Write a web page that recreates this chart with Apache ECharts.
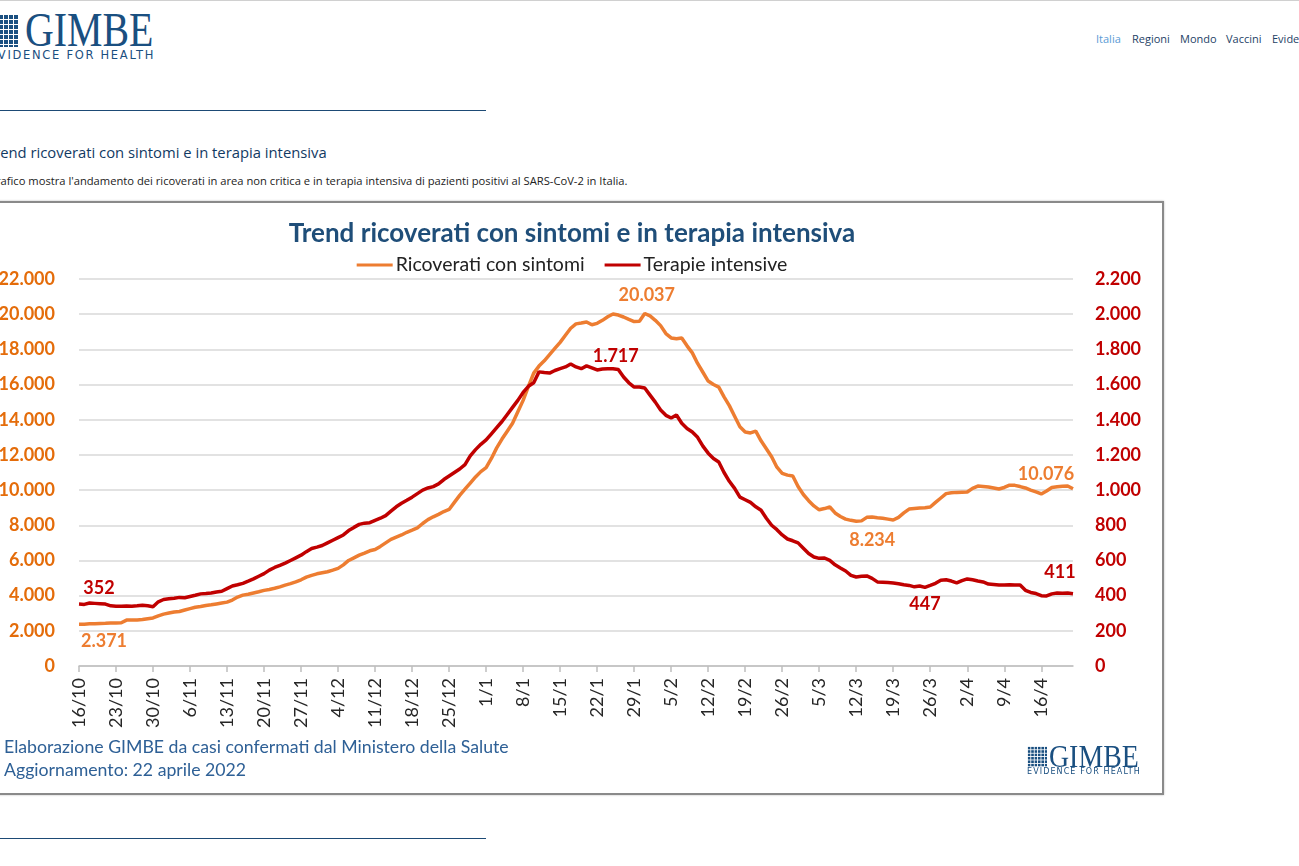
<!DOCTYPE html>
<html>
<head>
<meta charset="utf-8">
<script src="https://cdn.jsdelivr.net/npm/echarts@6/dist/echarts.min.js"></script>
<style>
html,body{margin:0;padding:0;background:#fff;width:1299px;height:866px;overflow:hidden;position:relative;font-family:"Open Sans",sans-serif}
.abs{position:absolute;white-space:nowrap}
.grid-icon{position:absolute;background-color:#1a4f80;
  background-image:linear-gradient(to right,#fff 1px,transparent 1px),linear-gradient(#fff 1px,transparent 1px);}
#box{position:absolute;left:-20px;top:201px;width:1180px;height:590px;border:2px solid #8a8a8a;background:#fff;box-shadow:0 0 2px #bbb}
#chart{width:1180px;height:590px}
</style>
</head>
<body>
<div class="abs" style="left:0;top:0;width:1299px;height:1px;background:#d0d0d0"></div>
<!-- header logo -->
<div class="grid-icon" style="left:-12px;top:14px;width:30px;height:33px;background-size:5px 5px"></div>
<div class="abs" style="left:25px;top:6px;font-family:'Liberation Serif',serif;font-size:48px;line-height:48px;color:#1a4f80;transform:scaleX(0.83);transform-origin:left top">GIMBE</div>
<div class="abs" style="left:-200px;width:355px;text-align:right;top:48px;font-family:'DejaVu Sans',sans-serif;font-size:11.5px;letter-spacing:1.7px;color:#1a4f80">EVIDENCE FOR HEALTH</div>
<!-- nav -->
<div class="abs" style="left:1096px;top:31px;font-size:11px;color:#5b9bd5">Italia</div>
<div class="abs" style="left:1132px;top:31px;font-size:11px;color:#1e3f66">Regioni</div>
<div class="abs" style="left:1180px;top:31px;font-size:11px;color:#1e3f66">Mondo</div>
<div class="abs" style="left:1226px;top:31px;font-size:11px;color:#1e3f66">Vaccini</div>
<div class="abs" style="left:1272px;top:31px;font-size:11px;color:#1e3f66">Evidenze</div>
<div class="abs" style="left:0;top:110px;width:486px;height:1px;background:#1d4a75"></div>
<div class="abs" style="left:-14px;top:142px;font-size:14.8px;color:#123a63">Trend ricoverati con sintomi e in terapia intensiva</div>
<div class="abs" style="left:-19px;top:173px;font-size:11.2px;color:#222">Il grafico mostra l'andamento dei ricoverati in area non critica e in terapia intensiva di pazienti positivi al SARS-CoV-2 in Italia.</div>
<div id="box"><div id="chart"></div></div>
<!-- small logo inside chart -->
<div class="grid-icon" style="left:1027px;top:746px;width:20px;height:21px;background-size:3.4px 3.4px"></div>
<div class="abs" style="left:1049px;top:740px;font-family:'Liberation Serif',serif;font-size:32px;line-height:32px;color:#1a4f80;transform:scaleX(0.87);transform-origin:left top">GIMBE</div>
<div class="abs" style="left:1027px;top:767px;font-family:'DejaVu Sans',sans-serif;font-size:8px;letter-spacing:1.1px;color:#1a4f80">EVIDENCE FOR HEALTH</div>
<div class="abs" style="left:0;top:838px;width:486px;height:1px;background:#1d4a75"></div>

<script>
// ---- data ----
const startDate = [2021, 10, 16]; // 16 ottobre 2021, one value per day
const seriesNames = ['Ricoverati con sintomi', 'Terapie intensive'];
const ricoverati = [
  2371,2380,2395,2400,2420,2430,2445,2450,2460,2610,
  2615,2620,2640,2690,2730,2850,2950,3010,3070,3100,
  3180,3260,3340,3380,3440,3480,3530,3580,3630,3750,
  3920,4030,4080,4150,4220,4300,4350,4420,4500,4600,
  4680,4780,4900,5050,5150,5240,5300,5360,5450,5550,
  5750,6000,6150,6300,6420,6550,6620,6800,7000,7200,
  7330,7450,7600,7720,7850,8100,8320,8480,8620,8780,
  8900,9300,9700,10050,10400,10750,11050,11280,11800,12400,
  12900,13350,13800,14450,15100,15900,16650,17050,17350,17700,
  18050,18400,18800,19200,19450,19500,19560,19400,19480,19650,
  19850,20010,19950,19840,19700,19580,19600,20037,19900,19650,
  19350,18900,18650,18600,18650,18200,17800,17200,16700,16200,
  16000,15850,15300,14800,14200,13600,13300,13250,13350,12800,
  12350,11900,11300,10950,10850,10800,10200,9750,9400,9100,
  8880,8950,9040,8700,8500,8350,8280,8234,8250,8450,
  8470,8430,8400,8350,8300,8450,8700,8920,8950,8980,
  9000,9040,9300,9550,9800,9850,9870,9880,9890,10100,
  10230,10210,10180,10120,10060,10150,10280,10270,10200,10120,
  10000,9900,9780,9950,10150,10190,10220,10230,10076
];
const terapie = [
  352,350,358,356,354,352,342,340,340,341,
  340,342,345,342,337,365,378,382,385,390,
  388,395,402,410,412,415,421,425,440,455,
  462,470,482,495,510,525,545,560,572,585,
  600,615,630,650,668,676,685,700,715,730,
  745,770,788,805,812,815,828,840,855,880,
  905,925,942,960,980,1000,1012,1020,1035,1060,
  1080,1100,1120,1145,1195,1230,1260,1285,1320,1355,
  1390,1430,1470,1510,1555,1590,1610,1672,1668,1665,
  1680,1690,1700,1717,1700,1690,1706,1695,1683,1688,
  1690,1690,1686,1643,1610,1586,1586,1580,1540,1500,
  1455,1425,1410,1427,1380,1350,1330,1300,1250,1210,
  1180,1160,1100,1050,1010,960,945,930,905,885,
  840,800,775,745,722,712,700,670,640,620,
  612,614,600,575,557,540,515,506,510,512,
  498,478,476,474,472,468,462,458,450,455,
  447,458,470,488,490,483,472,485,495,490,
  483,478,466,463,460,460,462,460,460,430,
  418,412,400,398,410,415,414,415,411
];
const leftTicks = {min: 0, max: 22000, interval: 2000};
const rightTicks = {min: 0, max: 2200, interval: 200};
const tickEvery = 7; // one x label per week
const titleText = 'Trend ricoverati con sintomi e in terapia intensiva';
const sourceText = 'Elaborazione GIMBE da casi confermati dal Ministero della Salute';
const updateText = 'Aggiornamento: 22 aprile 2022';

// labelled points (index -> label placement)
const orangeLabelAt = {0:{position:'bottom',offset:[25,3]},107:{position:'top',offset:[2,-4]},147:{position:'bottom',offset:[16,5]},188:{position:'top',offset:[-27,-1]}};
const redLabelAt = {0:{position:'top',offset:[20,-2]},93:{position:'top',offset:[45,6]},160:{position:'bottom',offset:[0,3]},188:{position:'top',offset:[-13,-8]}};

// ---- build ----
const categories = ricoverati.map((_, i) => {
  const d = new Date(Date.UTC(startDate[0], startDate[1] - 1, startDate[2] + i));
  return d.getUTCDate() + '/' + (d.getUTCMonth() + 1);
});
const fmt = v => String(v).replace(/\B(?=(\d{3})+(?!\d))/g, '.');
const FONT = 'Lato, "Noto Sans", sans-serif';
const ORANGE = '#ED7D31', RED = '#C00000';

function withLabels(arr, map, color) {
  return arr.map((v, i) => map[i] ? {
    value: v,
    label: Object.assign({show: true, color: color, fontSize: 18, fontWeight: 'bold', fontFamily: FONT,
      distance: 5, formatter: p => fmt(p.value)}, map[i])
  } : v);
}

const chart = echarts.init(document.getElementById('chart'), null, {renderer: 'canvas'});
const lineBase = {type: 'line', symbol: 'circle', symbolSize: 0, showSymbol: true, showAllSymbol: true};
chart.setOption({
  animation: false,
  backgroundColor: '#fff',
  title: {text: titleText, left: 'center', top: 13,
    textStyle: {fontFamily: FONT, fontSize: 26, fontWeight: 'bold', color: '#1F4E79'}},
  legend: {top: 47, left: 'center', icon: 'rect', itemWidth: 36, itemHeight: 3, itemGap: 20,
    textStyle: {fontFamily: FONT, fontSize: 19.5, color: '#222', padding: [0, 0, 0, -2]},
    data: seriesNames},
  grid: {left: 97, right: 89, top: 76, bottom: 127},
  xAxis: {
    type: 'category', data: categories, boundaryGap: false,
    axisLine: {lineStyle: {color: '#bfbfbf', width: 1.5}},
    axisTick: {interval: i => i % tickEvery === 0, length: 6, lineStyle: {color: '#bfbfbf', width: 1.5}},
    axisLabel: {interval: i => i % tickEvery === 0, rotate: 90, margin: 12, fontSize: 18,
      color: '#262626', fontFamily: FONT}
  },
  yAxis: [
    {type: 'value', min: leftTicks.min, max: leftTicks.max, interval: leftTicks.interval, position: 'left',
      axisLine: {show: false}, axisTick: {show: false},
      splitLine: {lineStyle: {color: '#d9d9d9', width: 1.5}},
      axisLabel: {formatter: fmt, color: '#E46C0A', fontSize: 18, fontWeight: 'bold', fontFamily: FONT, margin: 24}},
    {type: 'value', min: rightTicks.min, max: rightTicks.max, interval: rightTicks.interval, position: 'right',
      axisLine: {show: false}, axisTick: {show: false}, splitLine: {show: false},
      axisLabel: {formatter: fmt, color: RED, fontSize: 18, fontWeight: 'bold', fontFamily: FONT, margin: 22}}
  ],
  series: [
    Object.assign({}, lineBase, {name: seriesNames[0], yAxisIndex: 0, color: ORANGE,
      lineStyle: {width: 3.5, color: ORANGE}, data: withLabels(ricoverati, orangeLabelAt, ORANGE)}),
    Object.assign({}, lineBase, {name: seriesNames[1], yAxisIndex: 1, color: RED,
      lineStyle: {width: 3.5, color: RED}, data: withLabels(terapie, redLabelAt, RED)})
  ],
  graphic: [
    {type: 'text', left: 22, top: 535, style: {text: sourceText, fontFamily: FONT, fontSize: 17.7, fill: '#2E6096'}},
    {type: 'text', left: 22, top: 558, style: {text: updateText, fontFamily: FONT, fontSize: 17.7, fill: '#2E6096'}}
  ]
});
</script>
</body>
</html>
